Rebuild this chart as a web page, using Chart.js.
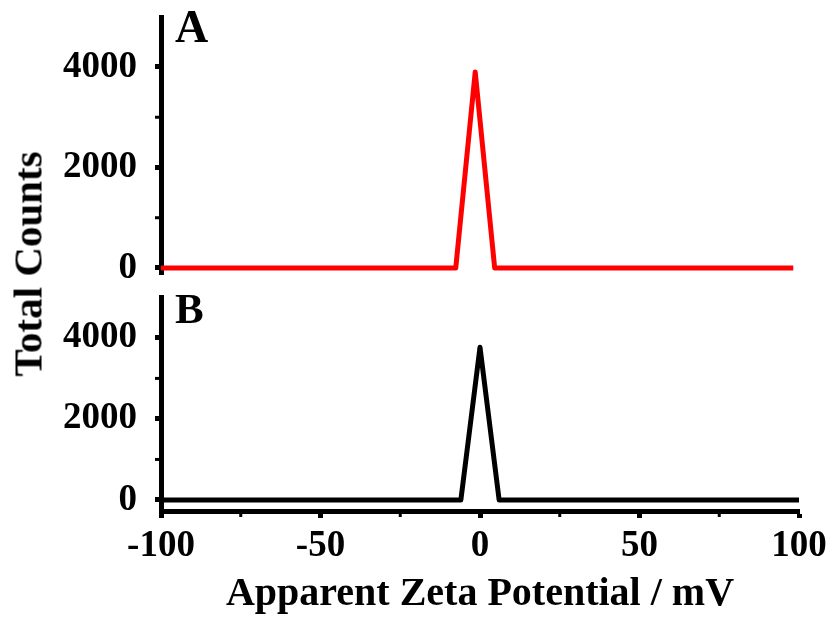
<!DOCTYPE html>
<html>
<head>
<meta charset="utf-8">
<script src="https://cdn.jsdelivr.net/npm/chart.js@4/dist/chart.umd.min.js"></script>
<style>
  body { margin: 0; background: #fff; }
  #wrap { position: relative; width: 835px; height: 623px; }
  canvas { position: absolute; left: 0; top: 0; }
  #ytitle {
    position: absolute; left: 28px; top: 264px;
    transform: translate(-50%, -50%) rotate(-90deg);
    font: bold 41px "Liberation Serif", "Times New Roman", serif;
    line-height: 1; white-space: nowrap; color: #000;
  }
</style>
</head>
<body>
<div id="wrap">
  <canvas id="chartA" width="835" height="623"></canvas>
  <canvas id="chartB" width="835" height="623"></canvas>
  <div id="ytitle">Total Counts</div>
</div>
<script>
// values
const potentialA = [-100, -7.6, -1.5, 4.6, 98.2];
const countsA = [0, 0, 3900, 0, 0];
const potentialB = [-100, -6.0, 0, 6.0, 100];
const countsB = [0, 0, 3770, 0, 0];

const xTickValues = [-100, -50, 0, 50, 100];
const yTickValues = [0, 2000, 4000];
const xMinorValues = [-75, -25, 25, 75];
const yMinorValues = [1000, 3000];

const FONT = '"Liberation Serif", "Times New Roman", serif';

// small outward ticks between the labelled ones
const minorTicks = {
  id: 'minorTicks',
  afterDraw(chart) {
    const ctx = chart.ctx;
    ctx.save();
    ctx.strokeStyle = '#000';
    ctx.lineWidth = 3;
    const y = chart.scales.y;
    yMinorValues.forEach(v => {
      const p = y.getPixelForValue(v);
      ctx.beginPath(); ctx.moveTo(y.right - 2, p); ctx.lineTo(y.right - 6, p); ctx.stroke();
    });
    const x = chart.scales.x;
    if (x.options.display) {
      xMinorValues.forEach(v => {
        const p = x.getPixelForValue(v);
        ctx.beginPath(); ctx.moveTo(p, x.top + 2); ctx.lineTo(p, x.top + 6); ctx.stroke();
      });
    }
    ctx.restore();
  }
};

// the "A" / "B" panel letters
const panelLabel = {
  id: 'panelLabel',
  afterDraw(chart, args, opts) {
    const {ctx, chartArea} = chart;
    ctx.save();
    ctx.font = 'bold ' + opts.size + 'px ' + FONT;
    ctx.fillStyle = '#000';
    ctx.textBaseline = 'alphabetic';
    ctx.fillText(opts.text, chartArea.left + 14, chartArea.top + opts.baseline);
    ctx.restore();
  }
};

function tickFont(size) {
  return {family: FONT, size: size, weight: 'bold', lineHeight: 1};
}

function makeChart(id, xs, ys, color, yMin, yMax, padTop, padBottom, showX, label) {
  return new Chart(document.getElementById(id).getContext('2d'), {
    type: 'line',
    data: {
      datasets: [{
        data: xs.map((x, i) => ({x: x, y: ys[i]})),
        borderColor: color,
        borderWidth: 5,
        borderJoinStyle: 'round',
        pointRadius: 0,
        tension: 0,
        fill: false
      }]
    },
    options: {
      responsive: false,
      animation: false,
      layout: {padding: {left: 0, right: 36, top: padTop, bottom: padBottom}},
      plugins: {
        legend: {display: false},
        tooltip: {enabled: false},
        panelLabel: label
      },
      scales: {
        x: {
          type: 'linear',
          display: showX,
          min: -100,
          max: 100,
          afterBuildTicks: s => { s.ticks = xTickValues.map(v => ({value: v})); },
          afterFit: s => {
            if (!showX) return;
            s.height = 112; s.paddingLeft = 0; s.paddingRight = 0;
          },
          grid: {drawOnChartArea: false, tickLength: 7, tickWidth: 5, tickColor: '#000'},
          border: {display: true, width: 5, color: '#000'},
          ticks: {
            padding: 10, color: '#000', maxRotation: 0, autoSkip: false,
            font: tickFont(37),
            callback: v => String(v)
          },
          title: {
            display: true,
            text: 'Apparent Zeta Potential / mV',
            color: '#000',
            font: {family: FONT, size: 40, weight: 'bold', lineHeight: 1.2},
            padding: {top: 0, bottom: 4}
          }
        },
        y: {
          min: yMin,
          max: yMax,
          afterBuildTicks: s => { s.ticks = yTickValues.map(v => ({value: v})); },
          afterFit: s => { s.width = 161; s.paddingTop = 0; s.paddingBottom = 0; },
          grid: {drawOnChartArea: false, tickLength: 6, tickWidth: 5, tickColor: '#000'},
          border: {display: true, width: 5, color: '#000'},
          ticks: {
            padding: 18, color: '#000',
            font: tickFont(37),
            callback: v => String(v)
          }
        }
      }
    },
    plugins: [minorTicks, panelLabel]
  });
}

makeChart('chartA', potentialA, countsA, '#ff0000', -120, 4995, 17, 349, false,
  {text: 'A', size: 46, baseline: 25});
makeChart('chartB', potentialB, countsB, '#000000', -272, 5009, 297, 0, true,
  {text: 'B', size: 43, baseline: 26});
</script>
</body>
</html>
